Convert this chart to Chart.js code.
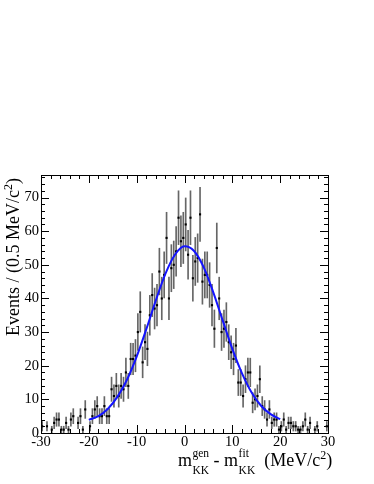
<!DOCTYPE html>
<html>
<head>
<meta charset="utf-8">
<script src="https://cdn.jsdelivr.net/npm/chart.js@4.4.1/dist/chart.umd.min.js"></script>
<style>
  html, body { margin: 0; padding: 0; background: #fff; }
  #c { display: block; }
</style>
</head>
<body>
<canvas id="c" width="374" height="484"></canvas>
<script>
// 直方圖：0.5 MeV 一格，-30 到 30
const binLow = -30;
const binWidth = 0.5;

// 每格事件數
const counts = [
  // -30 .. -20
  2, 0, 2, 0, 1, 3, 4, 4, 1, 1, 3, 1, 4, 5, 0, 3, 5, 1, 7, 0,
  // -20 .. -10
  2, 5, 7, 8, 5, 5, 8, 5, 5, 13, 11, 14, 11, 14, 13, 18, 14, 22, 22, 23,
  // -10 .. 0
  30, 36, 21, 27, 25, 35, 41, 37, 38, 48, 40, 47, 58, 40, 49, 50, 54, 64, 57, 58,
  // 0 .. 10
  62, 53, 64, 46, 51, 52, 65, 45, 47, 47, 44, 38, 31, 55, 40, 30, 31, 33, 27, 24,
  // 10 .. 20
  22, 26, 15, 15, 11, 16, 18, 18, 9, 10, 11, 16, 8, 7, 4, 7, 3, 4, 4, 1,
  // 20 .. 30
  2, 4, 1, 3, 3, 2, 2, 1, 1, 2, 4, 1, 3, 0, 1, 2, 0, 0, 0, 2
];

// 擬合曲線 (藍線) 讀點
const fitX = [-20, -18, -16, -14, -12, -10, -8, -6, -4, -2, 0, 2, 4, 6, 8, 10, 12, 14, 16, 18, 20];
const fitY = [3.9, 5.0, 7.2, 10.8, 15.9, 22.7, 30.8, 39.4, 47.3, 53.0, 55.5, 54.1, 49.3, 41.9, 33.4, 25.0, 17.8, 12.1, 8.1, 5.6, 4.1];

// 刻度
const xTicks = [-30, -20, -10, 0, 10, 20, 30];
const yTicks = [0, 10, 20, 30, 40, 50, 60, 70];
const minorStep = 2;

const binCenters = counts.map((_, i) => binLow + binWidth * (i + 0.5));

const points = [];
const errBars = [];
counts.forEach((n, i) => {
    if (n <= 0) return;
    const e = Math.sqrt(n);
    points.push({ x: binCenters[i], y: n });
    errBars.push({ x: binCenters[i], y: [n - e, n + e] });
});
const fitPoints = fitX.map((x, i) => ({ x: x, y: fitY[i] }));

const FONT = '"Liberation Serif", "DejaVu Serif", serif';

// ROOT 風格的框與內向刻度
const rootFrame = {
    id: 'rootFrame',
    afterDraw(chart) {
        const ctx = chart.ctx;
        const a = chart.chartArea;
        const xs = chart.scales.x;
        const ys = chart.scales.y;
        ctx.save();
        ctx.strokeStyle = '#000';
        ctx.lineWidth = 1;
        ctx.strokeRect(Math.round(a.left) + 0.5, Math.round(a.top) + 0.5,
            Math.round(a.right - a.left), Math.round(a.bottom - a.top));

        ctx.beginPath();
        for (let v = xs.min; v <= xs.max + 1e-9; v += minorStep) {
            const px = Math.round(xs.getPixelForValue(v)) + 0.5;
            const len = xTicks.includes(Math.round(v)) ? 8 : 4;
            ctx.moveTo(px, a.bottom); ctx.lineTo(px, a.bottom - len);
            ctx.moveTo(px, a.top); ctx.lineTo(px, a.top + len);
        }
        for (let v = 0; v <= ys.max; v += minorStep) {
            const py = Math.round(ys.getPixelForValue(v)) + 0.5;
            const len = yTicks.includes(v) ? 8 : 4;
            ctx.moveTo(a.left, py); ctx.lineTo(a.left + len, py);
            ctx.moveTo(a.right, py); ctx.lineTo(a.right - len, py);
        }
        ctx.stroke();

        // 刻度文字
        ctx.fillStyle = '#000';
        ctx.font = '14.5px ' + FONT;
        ctx.textAlign = 'center';
        ctx.textBaseline = 'alphabetic';
        xTicks.forEach(v => ctx.fillText(String(v), xs.getPixelForValue(v), 446));
        ctx.textAlign = 'right';
        ctx.textBaseline = 'middle';
        yTicks.forEach(v => ctx.fillText(String(v), a.left - 2, ys.getPixelForValue(v)));

        // Y 軸標題
        ctx.save();
        ctx.translate(18.5, 257);
        ctx.rotate(-Math.PI / 2);
        ctx.textBaseline = 'alphabetic';
        ctx.textAlign = 'left';
        const big = '18px ' + FONT, sup = '12px ' + FONT;
        ctx.font = big;
        const t1 = 'Events / (0.5 MeV/c';
        const w1 = ctx.measureText(t1).width;
        ctx.font = sup;
        const w2 = ctx.measureText('2').width;
        ctx.font = big;
        const w3 = ctx.measureText(')').width;
        let x0 = -(w1 + w2 + w3) / 2;
        ctx.fillText(t1, x0, 0);
        ctx.font = sup;
        ctx.fillText('2', x0 + w1, -7);
        ctx.font = big;
        ctx.fillText(')', x0 + w1 + w2, 0);
        ctx.restore();

        // X 軸標題
        ctx.textAlign = 'left';
        ctx.textBaseline = 'alphabetic';
        const small = '11.5px ' + FONT;
        let x = 178;
        const base = 465.5;
        const mSub = (sp, sb) => {
            ctx.font = big;
            ctx.fillText('m', x, base);
            x += ctx.measureText('m').width + 0.5;
            ctx.font = small;
            ctx.fillText(sp, x, base - 8.5);
            ctx.fillText(sb, x, base + 8);
            x += Math.max(ctx.measureText(sp).width, ctx.measureText(sb).width);
        };
        mSub('gen', 'KK');
        ctx.font = big;
        ctx.fillText(' - ', x, base);
        x += ctx.measureText(' - ').width;
        mSub('fit', 'KK');
        ctx.font = big;
        x += 9;
        ctx.fillText('(MeV/c', x, base);
        x += ctx.measureText('(MeV/c').width;
        ctx.font = sup;
        ctx.fillText('2', x, base - 7);
        x += ctx.measureText('2').width;
        ctx.font = big;
        ctx.fillText(')', x, base);
        ctx.restore();
    }
};

new Chart(document.getElementById('c'), {
    type: 'scatter',
    data: {
        datasets: [
            {
                type: 'line',
                data: fitPoints,
                borderColor: '#1414ff',
                borderWidth: 2,
                pointRadius: 0,
                cubicInterpolationMode: 'monotone',
                fill: false,
                order: 0
            },
            {
                type: 'scatter',
                data: points,
                pointStyle: 'rect',
                pointRadius: 1.5,
                backgroundColor: '#000',
                borderColor: '#000',
                borderWidth: 0,
                order: 1
            },
            {
                type: 'bar',
                data: errBars,
                barThickness: 1,
                backgroundColor: '#666',
                borderWidth: 0,
                grouped: false,
                order: 2
            }
        ]
    },
    options: {
        responsive: false,
        animation: false,
        layout: { padding: { left: 41, right: 46, top: 175, bottom: 51 } },
        plugins: { legend: { display: false }, tooltip: { enabled: false } },
        scales: {
            x: { type: 'linear', min: -30, max: 30, offset: false, display: false },
            y: { type: 'linear', min: 0, max: 76.7, display: false }
        }
    },
    plugins: [rootFrame]
});
</script>
</body>
</html>
